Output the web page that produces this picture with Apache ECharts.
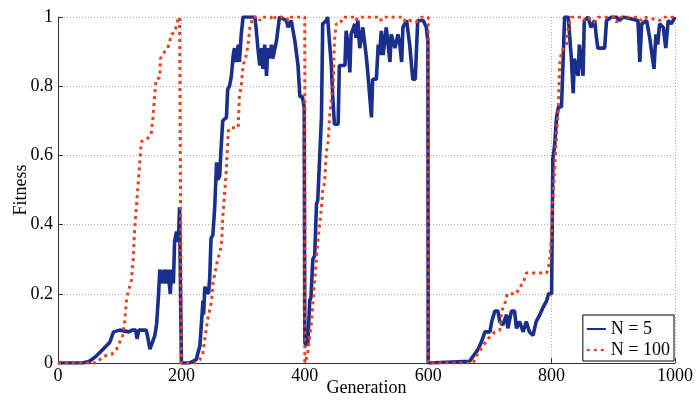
<!DOCTYPE html>
<html>
<head>
<meta charset="utf-8">
<script src="https://cdn.jsdelivr.net/npm/echarts@6/dist/echarts.min.js"></script>
<style>
  html, body { margin: 0; padding: 0; background: #fff; }
  #chart { width: 696px; height: 401px; }
</style>
</head>
<body>
<div id="chart"></div>
<script>
// [generation, fitness]
const n5Points = [
  [0, 0], [40, 0], [51, 0.005], [62, 0.02], [73, 0.04], [84, 0.06], [90, 0.09], [100, 0.095],
  [115, 0.09], [120, 0.095], [126, 0.095], [128, 0.07], [131, 0.095], [143, 0.095], [146, 0.07],
  [149, 0.04], [153, 0.06], [157, 0.08], [160, 0.115], [163, 0.2], [165, 0.27], [170, 0.23],
  [172, 0.27], [176, 0.23], [178, 0.27], [182, 0.2], [184, 0.27], [187, 0.23], [189, 0.35],
  [192, 0.38], [195, 0.35], [197, 0.45], [199.5, 0.45], [200, 0],
  [213, 0], [224, 0.01], [230, 0.05], [235, 0.18], [236, 0.14], [238, 0.22], [244, 0.2],
  [246, 0.25], [248, 0.36], [251, 0.37], [254, 0.45], [257, 0.58], [259, 0.53], [262, 0.54],
  [264, 0.61], [267, 0.7], [273, 0.71], [275, 0.79], [278, 0.8], [281, 0.83], [284, 0.89],
  [286, 0.91], [289, 0.87], [292, 0.92], [294, 0.87], [297, 0.95], [300, 1], [319, 1],
  [321, 0.97], [324, 0.91], [327, 0.86], [330, 0.91], [332, 0.85], [335, 0.92], [338, 0.83],
  [340, 0.91], [343, 0.88], [346, 0.92], [348, 0.88], [354, 0.93], [359, 1], [370, 0.99],
  [373, 0.97], [378, 0.99], [384, 0.93], [389, 0.86], [392, 0.77], [396, 0.77], [399, 0.74],
  [400, 0.06],
  [402, 0.05], [405, 0.06], [408, 0.18], [410, 0.19], [413, 0.3], [416, 0.31], [419, 0.46],
  [421, 0.47], [424, 0.59], [427, 0.71], [429, 0.98], [435, 0.99], [437, 1], [439, 0.95],
  [443, 0.86], [445, 0.78], [448, 0.69], [454, 0.69], [456, 0.86], [465, 0.86], [467, 0.96],
  [470, 0.92], [473, 0.84], [475, 0.95], [481, 0.98], [483, 0.94], [486, 0.99], [489, 0.91],
  [494, 0.97], [500, 0.88], [503, 0.82], [508, 0.71], [510, 0.82], [516, 0.82], [519, 0.92],
  [521, 0.89], [524, 0.96], [527, 0.89], [530, 0.94], [532, 0.97], [535, 0.92], [538, 0.87],
  [540, 0.95], [546, 0.91], [551, 0.95], [554, 0.92], [557, 0.87], [559, 0.97], [565, 0.99],
  [570, 0.92], [575, 0.82], [579, 0.82], [583, 0.99], [592, 0.99], [597, 0.97], [599.5, 0.93],
  [600, 0],
  [667, 0.005], [673, 0.02], [681, 0.04], [686, 0.06], [692, 0.09], [700, 0.09], [703, 0.12],
  [708, 0.15], [713, 0.15], [716, 0.12], [721, 0.11], [727, 0.14], [729, 0.1], [735, 0.15],
  [740, 0.15], [743, 0.1], [748, 0.12], [754, 0.09], [759, 0.12], [764, 0.09], [770, 0.08],
  [775, 0.12], [781, 0.14], [786, 0.16], [792, 0.18], [795, 0.2], [800, 0.2], [802, 0.59],
  [805, 0.63], [808, 0.71], [811, 0.74], [816, 0.74], [819, 0.89], [821, 1], [827, 1],
  [832, 0.88], [835, 0.78], [837, 0.88], [843, 0.83], [845, 0.92], [851, 0.83], [853, 0.99],
  [859, 1], [864, 0.97], [870, 0.99], [872, 0.95], [875, 0.91], [886, 0.91], [889, 0.99],
  [897, 1], [905, 1], [910, 0.99], [916, 1], [940, 0.99], [943, 0.87], [946, 0.98], [954, 0.99],
  [959, 0.94], [962, 0.9], [966, 0.85], [969, 0.95], [972, 0.92], [975, 0.98], [981, 0.97],
  [985, 0.91], [989, 0.99], [994, 0.98], [1000, 1]
]

const n100Points = [
  [0, 0], [62, 0], [65, 0.005], [74, 0.02], [87, 0.025], [95, 0.04], [105, 0.08], [108, 0.12],
  [111, 0.18], [113, 0.2], [119, 0.24], [122, 0.3], [124, 0.38], [127, 0.45], [130, 0.52],
  [133, 0.59], [135, 0.64], [143, 0.645], [151, 0.66], [154, 0.71], [157, 0.78], [159, 0.82],
  [165, 0.825], [166, 0.88], [173, 0.9], [178, 0.91], [184, 0.95], [189, 0.955], [194, 0.99],
  [197, 1], [200, 1], [200, 0],
  [224, 0], [230, 0.01], [235, 0.03], [238, 0.07], [243, 0.13], [249, 0.18], [251, 0.23],
  [259, 0.3], [265, 0.34], [267, 0.42], [270, 0.49], [273, 0.56], [276, 0.67], [278, 0.68],
  [292, 0.68], [294, 0.77], [297, 0.8], [300, 0.86], [305, 0.89], [308, 0.92], [311, 0.97],
  [316, 1], [325, 1], [327, 0.99], [330, 1], [345, 1], [348, 0.99], [352, 1], [370, 1],
  [373, 0.99], [376, 1], [400, 1], [400, 0],
  [402, 0.01], [405, 0.03], [411, 0.12], [416, 0.24], [421, 0.35], [427, 0.45], [429, 0.5],
  [432, 0.52], [435, 0.61], [438, 0.64], [440, 0.71], [443, 0.76], [446, 0.8], [448, 0.93],
  [451, 0.98], [457, 0.98], [462, 1], [480, 1], [483, 0.99], [486, 1], [520, 1], [523, 0.99],
  [526, 1], [560, 1], [563, 0.985], [570, 0.99], [580, 0.985], [590, 1], [600, 1], [600, 0],
  [673, 0], [678, 0.02], [689, 0.05], [697, 0.07], [708, 0.09], [716, 0.095], [719, 0.15],
  [724, 0.17], [728, 0.2], [743, 0.2], [748, 0.22], [754, 0.23], [759, 0.26], [792, 0.26],
  [795, 0.28], [797, 0.3], [800, 0.37], [802, 0.47], [805, 0.56], [808, 0.66], [811, 0.74],
  [813, 0.86], [816, 0.9], [824, 0.92], [827, 0.97], [832, 1], [850, 1], [853, 0.99],
  [858, 1], [870, 0.985], [875, 1], [900, 1], [905, 0.985], [910, 1], [940, 1], [945, 0.99],
  [950, 1], [975, 0.99], [980, 1], [1000, 1]
]

const seriesNames = ['N = 5', 'N = 100']

const font = 'Liberation Serif'
const chart = echarts.init(document.getElementById('chart'))

const option = {
  animation: false,
  backgroundColor: '#fff',
  grid: {
    left: 58,
    right: 21,
    top: 17,
    bottom: 38,
    containLabel: false,
    outerBoundsMode: 'none'
  },
  legend: {
    data: seriesNames,
    orient: 'vertical',
    right: 22,
    bottom: 40,
    backgroundColor: '#fff',
    borderColor: '#000',
    borderWidth: 1,
    padding: [5, 4, 2, 3],
    itemGap: 3,
    itemWidth: 19,
    itemHeight: 14,
    itemStyle: { opacity: 0 },
    textStyle: {
      fontFamily: font,
      fontSize: 18,
      color: '#000'
    }
  },
  xAxis: {
    type: 'value',
    min: 0,
    max: 1000,
    interval: 200,
    name: 'Generation',
    nameLocation: 'middle',
    nameGap: 16,
    nameMoveOverlap: false,
    nameTextStyle: { fontFamily: font, fontSize: 18, color: '#000' },
    axisLine: { lineStyle: { color: '#333', width: 1 } },
    axisTick: { inside: true, length: 5, lineStyle: { color: '#333' } },
    axisLabel: { fontFamily: font, fontSize: 18, color: '#000', margin: 4, formatter: v => String(v) },
    splitLine: { show: true, lineStyle: { color: '#aaa', type: [1, 2], width: 1 } }
  },
  yAxis: {
    type: 'value',
    min: 0,
    max: 1,
    interval: 0.2,
    name: 'Fitness',
    nameLocation: 'middle',
    nameGap: 28,
    nameMoveOverlap: false,
    nameTextStyle: { fontFamily: font, fontSize: 18, color: '#000' },
    axisLine: { show: true, lineStyle: { color: '#333', width: 1 } },
    axisTick: { show: true, inside: true, length: 5, lineStyle: { color: '#333' } },
    axisLabel: { fontFamily: font, fontSize: 18, color: '#000', margin: 5 },
    splitLine: { show: true, lineStyle: { color: '#aaa', type: [1, 2], width: 1 } }
  },
  series: [
    {
      name: seriesNames[0],
      type: 'line',
      data: n5Points,
      symbol: 'none',
      color: '#1a2e8e',
      lineStyle: { color: '#1a2e8e', width: 3.6 }
    },
    {
      name: seriesNames[1],
      type: 'line',
      data: n100Points,
      symbol: 'none',
      color: '#e6401c',
      lineStyle: { color: '#e6401c', width: 3, type: [3, 4] }
    }
  ]
}

chart.setOption(option)
</script>
</body>
</html>
